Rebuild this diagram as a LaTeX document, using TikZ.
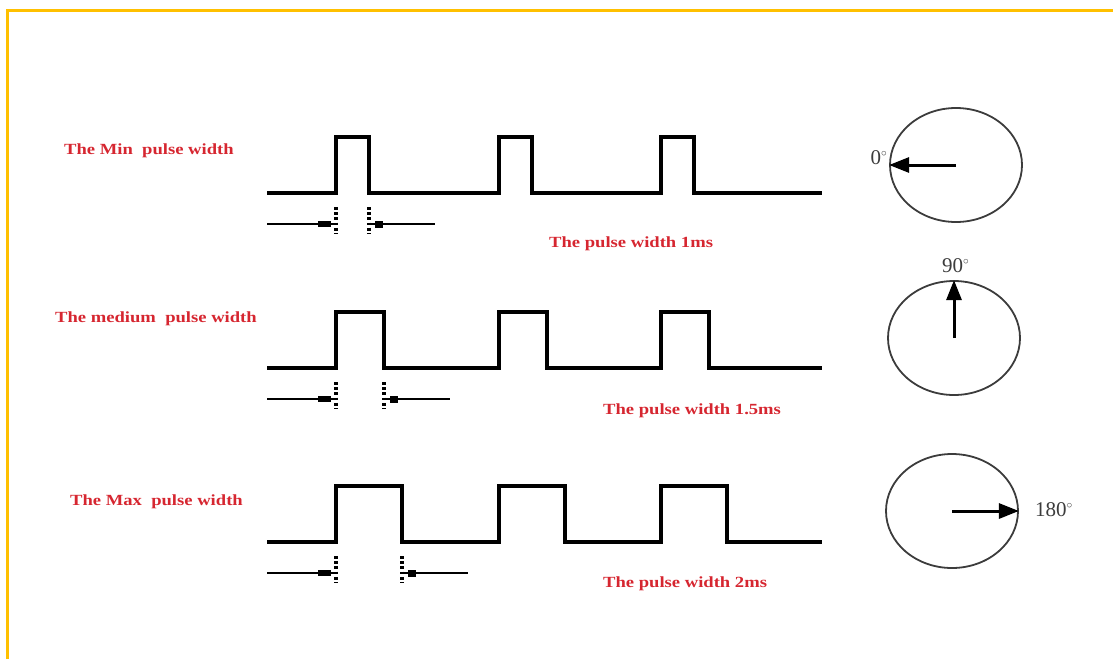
\documentclass[tikz,border=0pt]{standalone}
\usepackage{fontspec}
\setmainfont{Liberation Serif}
\usepackage{tikz}
\usetikzlibrary{arrows.meta,positioning,shapes.geometric}
\definecolor{frameyellow}{RGB}{255,192,0}
\definecolor{labelred}{RGB}{214,38,48}
\definecolor{dialgray}{RGB}{60,60,60}
\newcommand{\redlabel}[1]{\scalebox{1.2}[1]{#1}}
\newcommand{\degsign}{\raisebox{0.9ex}{\scalebox{0.55}{$\circ$}}}

\begin{document}
\begin{tikzpicture}[x=1pt,y=-1pt,
  wave/.style={line width=3.3pt,line join=miter},
  lead/.style={line width=2.2pt},
  dots/.style={line width=3.2pt,dash pattern=on 2.8pt off 2.4pt},
  dial/.style={ellipse,draw=dialgray,line width=1.8pt,minimum width=132pt,minimum height=114pt,inner sep=0pt},
  needle/.style={line width=3pt,-{Triangle[length=20pt,width=15pt]}},
  tag/.style={text=labelred,font=\bfseries\fontsize{15.5}{18}\selectfont,inner sep=0pt},
  deg/.style={text=dialgray,font=\fontsize{21}{23}\selectfont,inner sep=0pt}]
\useasboundingbox (0,0) rectangle (1113,659);
% frame
\draw[frameyellow,line width=3pt] (7.5,659) -- (7.5,10) -- (1113,10);
% pulse trains
\foreach \yb/\w in {193/33,368/48,542/66}{
  \draw[wave] (267,\yb) -- (336,\yb) -- ++(0,-56) -- ++(\w,0) -- ++(0,56)
    -- (499,\yb) -- ++(0,-56) -- ++(\w,0) -- ++(0,56)
    -- (661,\yb) -- ++(0,-56) -- ++(\w,0) -- ++(0,56) -- (822,\yb);
  % width markers
  \draw[lead] (267,\yb+31) -- (334,\yb+31);
  \fill (318,\yb+28) rectangle (331,\yb+34);
  \draw[dots] (336,\yb+14) -- (336,\yb+41);
  \draw[dots] (336+\w,\yb+14) -- (336+\w,\yb+41);
  \draw[lead] (336+\w,\yb+31) -- ++(66,0);
  \fill (336+\w+6,\yb+27.5) rectangle ++(8,7);
}
% labels
\node[tag,anchor=west] (minlbl) at (64,151) {\redlabel{The Min\ \ pulse width}};
\node[tag,anchor=west] (medlbl) at (55,319) {\redlabel{The medium\ \ pulse width}};
\node[tag,anchor=west] (maxlbl) at (70,502) {\redlabel{The Max\ \ pulse width}};
\node[tag,anchor=west] (minw) at (549,244) {\redlabel{The pulse width 1ms}};
\node[tag,anchor=west] (medw) at (603,411) {\redlabel{The pulse width 1.5ms}};
\node[tag,anchor=west] (maxw) at (603,584) {\redlabel{The pulse width 2ms}};
% dials
\node[dial] (d0) at (956,165) {};
\draw[needle] (d0.center) -- (d0.west);
\node[deg,anchor=east] (a0) at (887,158) {0\degsign};
\node[dial] (d90) at (954,338) {};
\draw[needle] (d90.center) -- (d90.north);
\node[deg,anchor=west] (a90) at (942,266) {90\degsign};
\node[dial] (d180) at (952,511) {};
\draw[needle] (d180.center) -- (d180.east);
\node[deg,anchor=west] (a180) at (1035,510) {180\degsign};
\end{tikzpicture}
\end{document}
